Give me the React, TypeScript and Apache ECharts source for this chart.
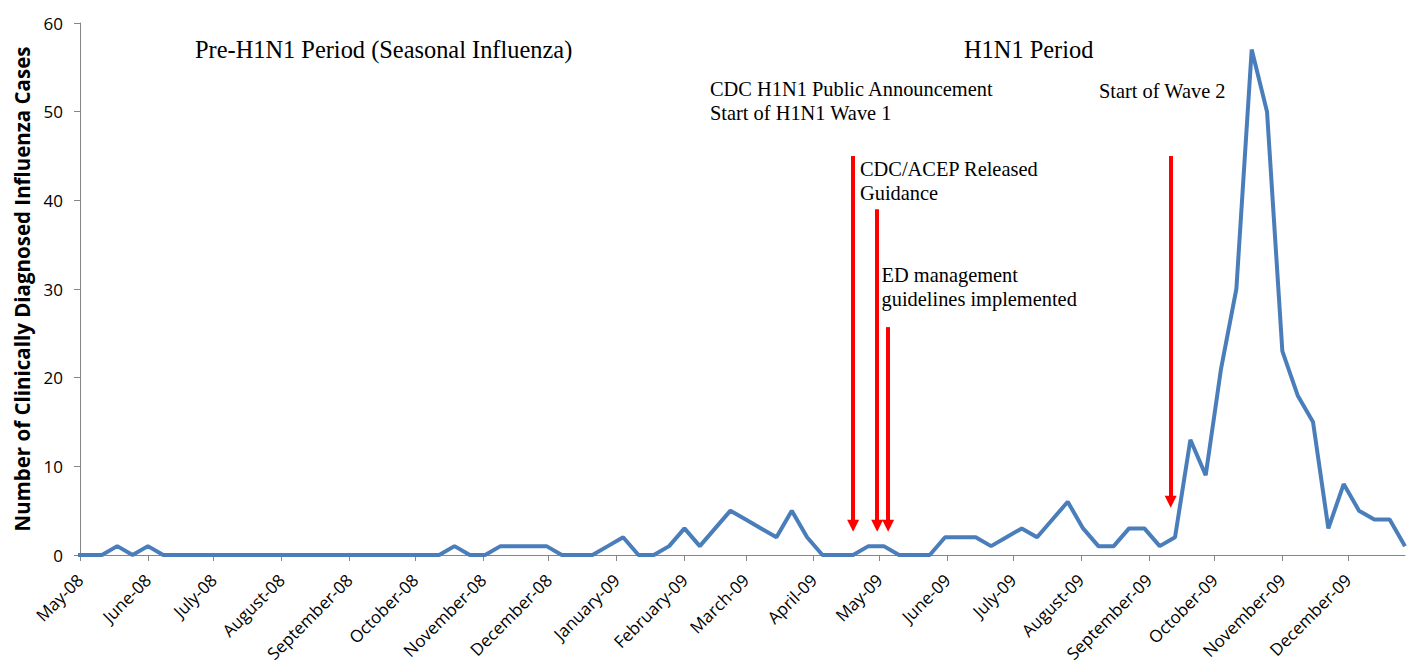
import React, { useEffect, useRef } from "react";
import * as echarts from "echarts";

// Weekly dates (Sundays)
const weekDates = [
  "2008-04-27",
  "2008-05-04", "2008-05-11", "2008-05-18", "2008-05-25",
  "2008-06-01", "2008-06-08", "2008-06-15", "2008-06-22", "2008-06-29",
  "2008-07-06", "2008-07-13", "2008-07-20", "2008-07-27",
  "2008-08-03", "2008-08-10", "2008-08-17", "2008-08-24", "2008-08-31",
  "2008-09-07", "2008-09-14", "2008-09-21", "2008-09-28",
  "2008-10-05", "2008-10-12", "2008-10-19", "2008-10-26",
  "2008-11-02", "2008-11-09", "2008-11-16", "2008-11-23", "2008-11-30",
  "2008-12-07", "2008-12-14", "2008-12-21", "2008-12-28",
  "2009-01-04", "2009-01-11", "2009-01-18", "2009-01-25",
  "2009-02-01", "2009-02-08", "2009-02-15", "2009-02-22",
  "2009-03-01", "2009-03-08", "2009-03-15", "2009-03-22", "2009-03-29",
  "2009-04-05", "2009-04-12", "2009-04-19", "2009-04-26",
  "2009-05-03", "2009-05-10", "2009-05-17", "2009-05-24", "2009-05-31",
  "2009-06-07", "2009-06-14", "2009-06-21", "2009-06-28",
  "2009-07-05", "2009-07-12", "2009-07-19", "2009-07-26",
  "2009-08-02", "2009-08-09", "2009-08-16", "2009-08-23", "2009-08-30",
  "2009-09-06", "2009-09-13", "2009-09-20", "2009-09-27",
  "2009-10-04", "2009-10-11", "2009-10-18", "2009-10-25",
  "2009-11-01", "2009-11-08", "2009-11-15", "2009-11-22", "2009-11-29",
  "2009-12-06", "2009-12-13", "2009-12-20", "2009-12-27",
];

// Number of clinically diagnosed influenza cases per week
const weeklyCases = [
  0,
  0, 0, 1, 0, 1, 0,
  0, 0, 0, 0, 0, 0, 0, 0, 0, 0, 0, 0, 0, 0, 0, 0, 0, 0,
  1, 0, 0, 1, 1, 1, 1, 0, 0, 0, 1, 2,
  0, 0, 1, 3, 1, 3, 5, 4, 3, 2, 5, 2,
  0, 0, 0, 1, 1, 0, 0, 0, 2, 2, 2, 1,
  2, 3, 2, 4, 6, 3, 1, 1, 3, 3, 1, 2,
  13, 9, 21, 30, 57, 50, 23, 18, 15, 3, 8, 5, 4, 4, 1,
];

// Month tick positions and labels
const monthTicks = [
  "2008-05-01", "2008-06-01", "2008-07-01", "2008-08-01", "2008-09-01",
  "2008-10-01", "2008-11-01", "2008-12-01", "2009-01-01", "2009-02-01",
  "2009-03-01", "2009-04-01", "2009-05-01", "2009-06-01", "2009-07-01",
  "2009-08-01", "2009-09-01", "2009-10-01", "2009-11-01", "2009-12-01",
];
const monthLabels = [
  "May-08", "June-08", "July-08", "August-08", "September-08",
  "October-08", "November-08", "December-08", "January-09", "February-09",
  "March-09", "April-09", "May-09", "June-09", "July-09",
  "August-09", "September-09", "October-09", "November-09", "December-09",
];

const axisStart = "2008-05-01";
const axisEnd = "2009-12-27";

// Event arrows
const arrowDates = ["2009-04-19", "2009-04-30", "2009-05-05", "2009-09-11"];
const arrowTops = [45, 39, 25.7, 45];
const arrowEnds = [3.3, 3.3, 3.3, 6.0];

// Annotation texts
const periodTexts = ["Pre-H1N1 Period (Seasonal Influenza)", "H1N1 Period"];
const eventTexts = [
  ["CDC H1N1 Public Announcement", "Start of H1N1 Wave 1"],
  ["CDC/ACEP Released", "Guidance"],
  ["ED management", "guidelines implemented"],
  ["Start of Wave 2"],
];

const toTs = (s: string) => {
  const [y, m, d] = s.split("-").map(Number);
  return new Date(y, m - 1, d).getTime();
};

export default function App() {
  const ref = useRef<HTMLDivElement>(null);

  useEffect(() => {
    if (!ref.current) return;
    const chart = echarts.init(ref.current, undefined, { renderer: "svg" });

    const monthTs = monthTicks.map(toTs);
    const data = weekDates.map((d, i) => [toTs(d), weeklyCases[i]]);

    const serif = "'Liberation Serif', 'Times New Roman', serif";
    const mid = (baseline: number, size: number) => baseline - 0.3375 * size;
    const periodSize = 24.4;
    const eventSize = 20.4;

    const periodPos = [
      { x: 195, b: 58 },
      { x: 964, b: 57.3 },
    ];
    const eventPos = [
      { x: 710, b: 96 },
      { x: 860, b: 176 },
      { x: 881.5, b: 281.7 },
      { x: 1099, b: 97.7 },
    ];

    const graphic: any[] = [];
    periodTexts.forEach((t, i) => {
      graphic.push({
        type: "text",
        x: periodPos[i].x,
        y: mid(periodPos[i].b, periodSize),
        silent: true,
        style: {
          text: t,
          font: `${periodSize}px ${serif}`,
          fill: "#000",
          textAlign: "left",
          textVerticalAlign: "middle",
        },
      });
    });
    eventTexts.forEach((lines, i) => {
      lines.forEach((t, j) => {
        graphic.push({
          type: "text",
          x: eventPos[i].x,
          y: mid(eventPos[i].b + j * 24, eventSize),
          silent: true,
          style: {
            text: t,
            font: `${eventSize}px ${serif}`,
            fill: "#000",
            textAlign: "left",
            textVerticalAlign: "middle",
          },
        });
      });
    });

    const markLineData = arrowDates.map((d, i) => [
      { coord: [toTs(d), arrowTops[i]] },
      { coord: [toTs(d), arrowEnds[i]] },
    ]);

    const option: any = {
      animation: false,
      backgroundColor: "#ffffff",
      grid: {
        left: 80,
        right: 6,
        top: 23,
        bottom: 107,
        containLabel: false,
        outerBoundsMode: "none",
      },
      xAxis: {
        type: "value",
        min: toTs(axisStart),
        max: toTs(axisEnd),
        axisLine: { show: true, lineStyle: { color: "#868686", width: 1 } },
        axisTick: {
          show: true,
          customValues: monthTs,
          length: 6,
          lineStyle: { color: "#868686" },
        },
        axisLabel: {
          customValues: monthTs,
          rotate: 45,
          margin: 22,
          fontFamily: "'Open Sans', sans-serif",
          fontSize: 17,
          color: "#000",
          formatter: (v: number) => {
            const idx = monthTs.indexOf(v);
            return idx >= 0 ? monthLabels[idx] : "";
          },
        },
        splitLine: { show: false },
      },
      yAxis: {
        type: "value",
        min: 0,
        max: 60,
        interval: 10,
        name: "Number of Clinically Diagnosed Influenza Cases",
        nameLocation: "middle",
        nameGap: 48,
        nameTextStyle: {
          fontFamily: "'Open Sans', sans-serif",
          fontWeight: "bold",
          fontSize: 20.5,
          color: "#000",
        },
        axisLine: { show: true, lineStyle: { color: "#868686", width: 1 } },
        axisTick: { show: true, length: 6, lineStyle: { color: "#868686" } },
        axisLabel: {
          margin: 17,
          fontFamily: "'Open Sans', sans-serif",
          fontSize: 17,
          color: "#000",
        },
        splitLine: { show: false },
      },
      series: [
        {
          type: "line",
          data,
          showSymbol: false,
          symbol: "none",
          clip: true,
          lineStyle: { color: "#4A7EBB", width: 4 },
          itemStyle: { color: "#4A7EBB" },
          markLine: {
            silent: true,
            symbol: ["none", "triangle"],
            symbolSize: [12, 12],
            label: { show: false },
            lineStyle: { color: "#FF0000", width: 4, type: "solid" },
            emphasis: { disabled: true },
            data: markLineData,
          },
        },
      ],
      graphic,
    };

    chart.setOption(option);
    return () => chart.dispose();
  }, []);

  return (
    <div
      ref={ref}
      style={{ position: "fixed", left: 0, top: 0, width: 1411, height: 662, background: "#fff" }}
    />
  );
}
